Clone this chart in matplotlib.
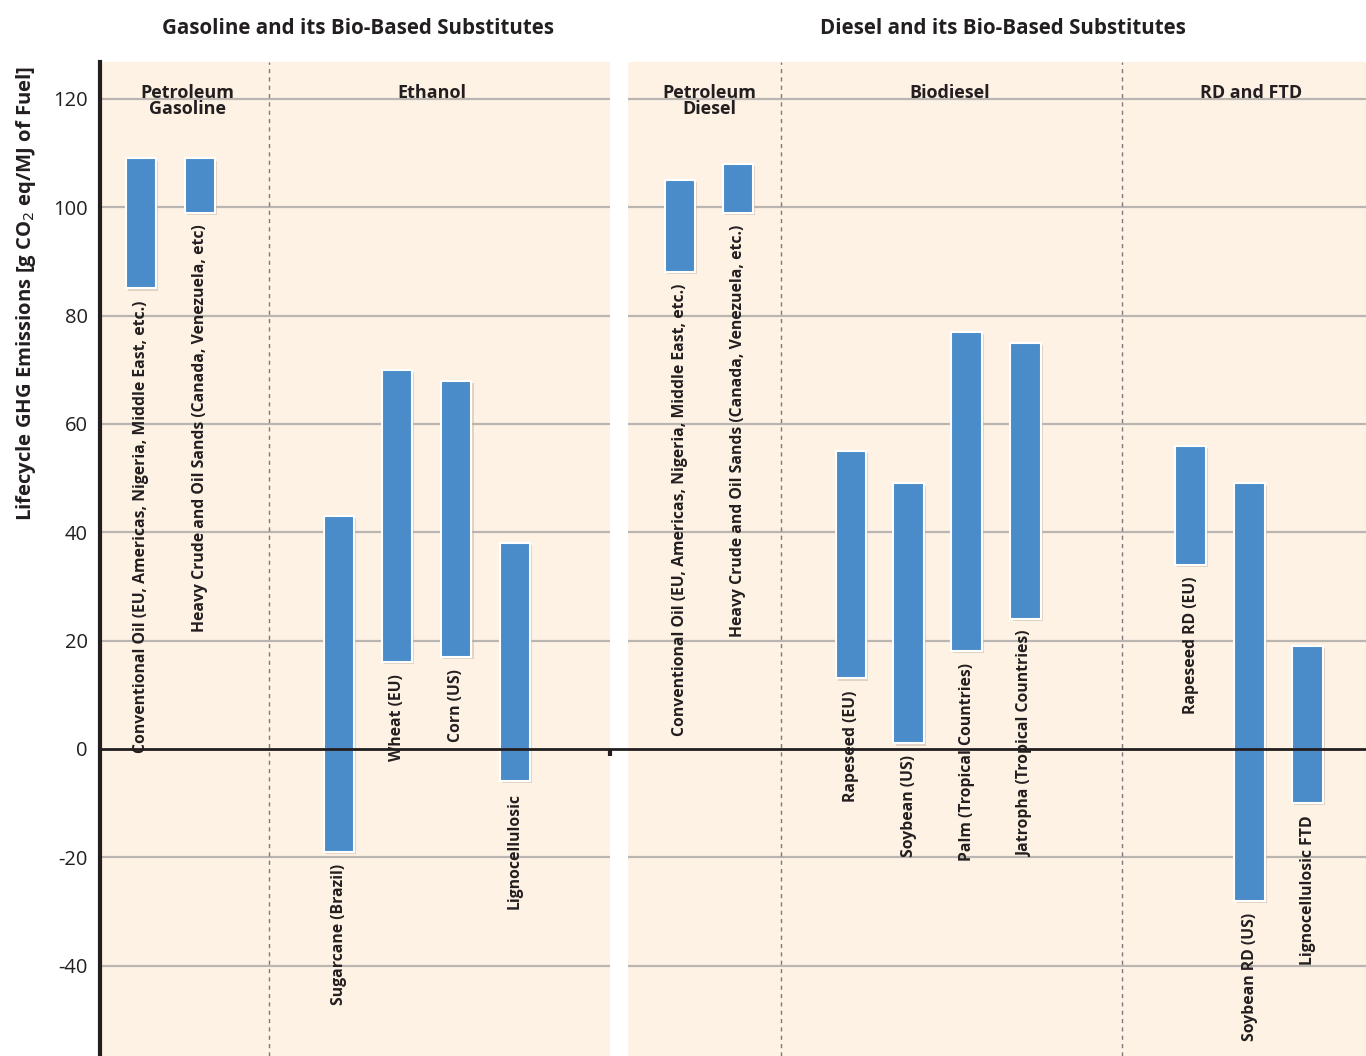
import matplotlib
matplotlib.use("Agg")
import matplotlib.pyplot as plt
import matplotlib.patheffects as pe
from matplotlib.lines import Line2D

plt.rcParams['font.family'] = ['Open Sans', 'DejaVu Sans']

# ---- data (g CO2 eq / MJ of fuel): low and high end of each range ----
gas_labels = ['Conventional Oil (EU, Americas, Nigeria, Middle East, etc.)',
              'Heavy Crude and Oil Sands (Canada, Venezuela, etc)',
              'Sugarcane (Brazil)', 'Wheat (EU)', 'Corn (US)', 'Lignocellulosic']
gas_low = [85, 99, -19, 16, 17, -6]
gas_high = [109, 109, 43, 70, 68, 38]

dsl_labels = ['Conventional Oil (EU, Americas, Nigeria, Middle East, etc.)',
              'Heavy Crude and Oil Sands (Canada, Venezuela, etc.)',
              'Rapeseed (EU)', 'Soybean (US)', 'Palm (Tropical Countries)',
              'Jatropha (Tropical Countries)', 'Rapeseed RD (EU)',
              'Soybean RD (US)', 'Lignocellulosic FTD']
dsl_low = [88, 99, 13, 1, 18, 24, 34, -28, -10]
dsl_high = [105, 108, 55, 49, 77, 75, 56, 49, 19]

gas_groups = ['Petroleum\nGasoline', 'Ethanol']
dsl_groups = ['Petroleum\nDiesel', 'Biodiesel', 'RD and FTD']
yticks = [-40, -20, 0, 20, 40, 60, 80, 100, 120]

# ---- layout (in slot units) ----
gas_pos = [0.70, 1.70, 4.07, 5.06, 6.07, 7.07]
gas_sep = [2.88]
gas_group_x = [1.49, 5.66]
gas_width = 8.69
dsl_pos = [0.89, 1.88, 3.81, 4.80, 5.79, 6.80, 9.62, 10.63, 11.62]
dsl_sep = [2.62, 8.44]
dsl_group_x = [1.40, 5.50, 10.65]
dsl_width = 12.62

bg = '#fef2e4'
bar_color = '#4a8cc9'
ymin, ymax = -56.7, 126.8

fig = plt.figure(figsize=(13.66, 10.56), dpi=100)
ax1 = fig.add_axes([100 / 1366, 0, 510 / 1366, 994 / 1056])
ax2 = fig.add_axes([628 / 1366, 0, 738 / 1366, 994 / 1056])

shadow = [pe.withSimplePatchShadow(offset=(1.5, -1.5), shadow_rgbFace='#bfae9c', alpha=0.45)]


def draw_panel(ax, pos, low, high, labels, seps, groups, group_x, width):
    ax.set_facecolor(bg)
    ax.set_xlim(0, width)
    ax.set_ylim(ymin, ymax)
    for y in yticks:
        if y != 0:
            ax.axhline(y, color='#b9b5b1', lw=1.6, zorder=1)
    for s in seps:
        ax.axvline(s, color='#7a7a7a', lw=1, ls=(0, (3, 3)), zorder=1)
    heights = [h - l for l, h in zip(low, high)]
    bars = ax.bar(pos, heights, bottom=low, width=0.52, color=bar_color,
                  edgecolor='white', linewidth=1.5, zorder=3)
    for b in bars:
        b.set_path_effects(shadow)
    for x, l, lab in zip(pos, low, labels):
        ax.text(x, l - 2.2, lab, rotation=90, ha='center', va='top',
                fontsize=11.3, fontweight='bold', color='#231f20', zorder=4)
    for gx, g in zip(group_x, groups):
        ax.text(gx, 122.8, g, ha='center', va='top', fontsize=13,
                fontweight='bold', color='#231f20', linespacing=0.85, zorder=4)
    for sp in ax.spines.values():
        sp.set_visible(False)
    ax.tick_params(length=0)
    ax.set_xticks([])


draw_panel(ax1, gas_pos, gas_low, gas_high, gas_labels, gas_sep,
           gas_groups, gas_group_x, gas_width)
draw_panel(ax2, dsl_pos, dsl_low, dsl_high, dsl_labels, dsl_sep,
           dsl_groups, dsl_group_x, dsl_width)

ax1.set_yticks(yticks)
ax1.set_yticklabels([str(v) for v in yticks], fontsize=14.5, color='#231f20')
ax1.tick_params(axis='y', pad=9)
ax1.spines['left'].set_visible(True)
ax1.spines['left'].set_linewidth(3)
ax1.spines['left'].set_color('#231f20')
ax2.set_yticks([])

ax1.set_ylabel('Lifecycle GHG Emissions [g CO$_2$ eq/MJ of Fuel]', fontsize=14.6,
               fontweight='bold', color='#231f20')
ax1.yaxis.set_label_coords(-62 / 510, 0.767)

# zero line across both panels and the gap
y0 = (0 - ymin) / (ymax - ymin) * 994 / 1056
fig.add_artist(Line2D([100 / 1366, 1.0], [y0, y0], color='#231f20', lw=2, zorder=10))
fig.add_artist(Line2D([610 / 1366, 610 / 1366], [y0, y0 - 7 / 1056], color='#231f20', lw=3,
                      solid_capstyle='butt', zorder=10))

fig.text(358 / 1366, 1 - 28 / 1056, 'Gasoline and its Bio-Based Substitutes',
         ha='center', va='center', fontsize=14.8, fontweight='bold', color='#231f20')
fig.text(1003 / 1366, 1 - 28 / 1056, 'Diesel and its Bio-Based Substitutes',
         ha='center', va='center', fontsize=14.8, fontweight='bold', color='#231f20')

fig.savefig('out.png', dpi=100, facecolor='white')
